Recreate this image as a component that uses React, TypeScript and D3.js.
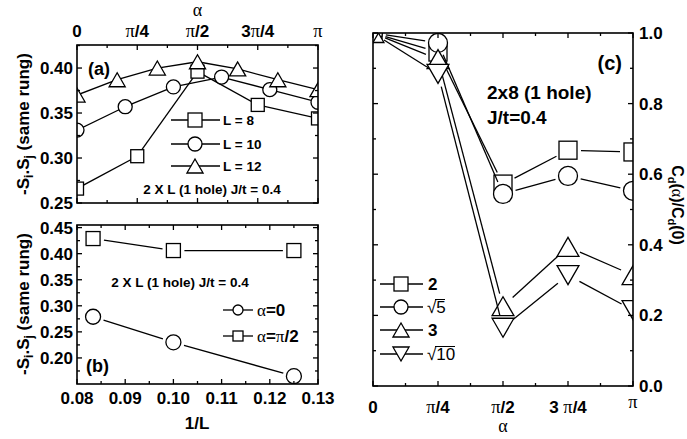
import React from 'react';
import * as d3 from 'd3';

const PI = Math.PI;
// ---- Panel (a): alpha in units of pi, -Si.Sj values
const aL8 = [0, 0.25, 0.5, 0.75, 1];
const vL8 = [0.266, 0.302, 0.396, 0.359, 0.344];
const aL10 = [0, 0.2, 0.4, 0.6, 0.8, 1];
const vL10 = [0.331, 0.357, 0.379, 0.390, 0.376, 0.362];
const aL12 = [0, 1 / 6, 2 / 6, 3 / 6, 4 / 6, 5 / 6, 1];
const vL12 = [0.370, 0.387, 0.400, 0.407, 0.399, 0.387, 0.376];
const legendA = ['L = 8', 'L = 10', 'L = 12'];

// ---- Panel (b)
const invL = [1 / 12, 0.1, 0.125];
const vAlpha0 = [0.279, 0.230, 0.165];
const vAlphaPi2 = [0.429, 0.406, 0.406];

// ---- Panel (c)
const aC = [0, 0.25, 0.5, 0.75, 1];
const cd2 = [1.0, 0.946, 0.572, 0.668, 0.663];
const cd5 = [1.0, 0.972, 0.544, 0.595, 0.553];
const cd3 = [1.0, 0.926, 0.226, 0.394, 0.314];
const cd10 = [1.0, 0.884, 0.165, 0.314, 0.215];

const ticksA = ['0', 'π/4', 'π/2', '3π/4', 'π'];
const yTicksA = [0.25, 0.30, 0.35, 0.40];
const yTicksB = [0.20, 0.25, 0.30, 0.35, 0.40, 0.45];
const xTicksB = [0.08, 0.09, 0.10, 0.11, 0.12, 0.13];
const yTicksC = [0.0, 0.2, 0.4, 0.6, 0.8, 1.0];

const SANS = "'Liberation Sans', Arial, Helvetica, sans-serif";
const SERIF = "'Liberation Serif', 'Times New Roman', serif";

type Shape = 'square' | 'circle' | 'up' | 'down';

function Marker({ shape, x, y, s, sw = 1.3 }: { shape: Shape; x: number; y: number; s: number; sw?: number }) {
  const h = s / 2;
  const common = { fill: 'white', stroke: 'black', strokeWidth: sw };
  if (shape === 'square') return <rect x={x - h} y={y - h} width={s} height={s} {...common} />;
  if (shape === 'circle') return <circle cx={x} cy={y} r={h} {...common} />;
  const w = h * 1.15;
  if (shape === 'up')
    return <polygon points={`${x},${y - h} ${x - w},${y + h} ${x + w},${y + h}`} {...common} />;
  return <polygon points={`${x},${y + h} ${x - w},${y - h} ${x + w},${y - h}`} {...common} />;
}

function Series({ pts, shape, s, gap, sw = 1.3 }: { pts: [number, number][]; shape: Shape; s: number; gap: number; sw?: number }) {
  const segs = [];
  for (let i = 0; i < pts.length - 1; i++) {
    const [x1, y1] = pts[i];
    const [x2, y2] = pts[i + 1];
    const dx = x2 - x1, dy = y2 - y1;
    const L = Math.hypot(dx, dy);
    if (L <= 2 * gap) continue;
    const ux = dx / L, uy = dy / L;
    segs.push(
      <line key={i} x1={x1 + ux * gap} y1={y1 + uy * gap} x2={x2 - ux * gap} y2={y2 - uy * gap} stroke="black" strokeWidth={sw} />
    );
  }
  return (
    <g>
      {segs}
      {pts.map((p, i) => <Marker key={'m' + i} shape={shape} x={p[0]} y={p[1]} s={s} />)}
    </g>
  );
}

function PiLabel({ label, x, y, size, anchor = 'middle' }: { label: string; x: number; y: number; size: number; anchor?: string }) {
  const parts = label.split(/(π)/).filter((p) => p.length > 0);
  return (
    <text x={x} y={y} textAnchor={anchor} fontSize={size}>
      {parts.map((p, i) =>
        p === 'π' ? (
          <tspan key={i} fontFamily={SERIF} fontWeight="normal" fontSize={size * 1.08}>π</tspan>
        ) : (
          <tspan key={i} fontFamily={SANS} fontWeight="bold">{p}</tspan>
        )
      )}
    </text>
  );
}

function Frame({ x0, x1, y0, y1 }: { x0: number; x1: number; y0: number; y1: number }) {
  return <rect x={x0} y={y0} width={x1 - x0} height={y1 - y0} fill="none" stroke="black" strokeWidth={1.6} />;
}

function XTicks({ vals, sx, y0, y1, len }: { vals: number[]; sx: (v: number) => number; y0: number; y1: number; len: number }) {
  return (
    <g stroke="black" strokeWidth={1.3}>
      {vals.map((v, i) => (
        <g key={i}>
          <line x1={sx(v)} x2={sx(v)} y1={y1} y2={y1 - len} />
          <line x1={sx(v)} x2={sx(v)} y1={y0} y2={y0 + len} />
        </g>
      ))}
    </g>
  );
}

function YTicks({ vals, sy, x0, x1, len }: { vals: number[]; sy: (v: number) => number; x0: number; x1: number; len: number }) {
  return (
    <g stroke="black" strokeWidth={1.3}>
      {vals.map((v, i) => (
        <g key={i}>
          <line y1={sy(v)} y2={sy(v)} x1={x0} x2={x0 + len} />
          <line y1={sy(v)} y2={sy(v)} x1={x1} x2={x1 - len} />
        </g>
      ))}
    </g>
  );
}

function YTitle({ x, y }: { x: number; y: number }) {
  return (
    <text transform={`translate(${x},${y}) rotate(-90)`} textAnchor="middle" fontFamily={SANS} fontWeight="bold" fontSize={17}>
      -S<tspan fontSize={12} dy={4}>i</tspan><tspan dy={-4}>.S</tspan><tspan fontSize={12} dy={4}>j</tspan><tspan dy={-4}> (same rung)</tspan>
    </text>
  );
}

export default function App() {
  const A = { x0: 77, x1: 318, y0: 45, y1: 203 };
  const xA = d3.scaleLinear().domain([0, PI]).range([A.x0, A.x1]);
  const yA = d3.scaleLinear().domain([0.25, 0.4256]).range([A.y1, A.y0]);
  const B = { x0: 77, x1: 318, y0: 225, y1: 384 };
  const xB = d3.scaleLinear().domain([0.08, 0.13]).range([B.x0, B.x1]);
  const yB = d3.scaleLinear().domain([0.15, 0.455]).range([B.y1, B.y0]);
  const C = { x0: 373, x1: 633, y0: 33, y1: 386 };
  const xC = d3.scaleLinear().domain([0, PI]).range([C.x0, C.x1]);
  const yC = d3.scaleLinear().domain([0, 1]).range([C.y1, C.y0]);

  const piMajor = [0, 0.25, 0.5, 0.75, 1].map((k) => k * PI);
  const piMinor = [0.125, 0.375, 0.625, 0.875].map((k) => k * PI);

  const ptsA = (xs: number[], vs: number[]) => xs.map((a, i) => [xA(a * PI), yA(vs[i])] as [number, number]);
  const ptsB = (xs: number[], vs: number[]) => xs.map((a, i) => [xB(a), yB(vs[i])] as [number, number]);
  const ptsC = (xs: number[], vs: number[]) => xs.map((a, i) => [xC(a * PI), yC(vs[i])] as [number, number]);

  const legAy = [120, 144, 166];
  const legAShapes: Shape[] = ['square', 'circle', 'up'];
  const legCy = [284, 307, 330, 354];

  return (
    <svg width={687} height={439} style={{ position: 'absolute', left: 0, top: 0, background: 'white' }}>
      <defs>
        <clipPath id="clipA"><rect x={A.x0} y={A.y0} width={A.x1 - A.x0} height={A.y1 - A.y0} /></clipPath>
        <clipPath id="clipB"><rect x={B.x0} y={B.y0} width={B.x1 - B.x0} height={B.y1 - B.y0} /></clipPath>
        <clipPath id="clipC"><rect x={C.x0} y={C.y0} width={C.x1 - C.x0} height={C.y1 - C.y0} /></clipPath>
      </defs>
      <rect x={0} y={0} width={687} height={439} fill="white" />

      {/* ===== Panel (a) ===== */}
      <g clipPath="url(#clipA)">
        <Series pts={ptsA(aL8, vL8)} shape="square" s={13} gap={0} />
        <Series pts={ptsA(aL10, vL10)} shape="circle" s={14} gap={0} />
        <Series pts={ptsA(aL12, vL12)} shape="up" s={14} gap={0} />
      </g>
      <XTicks vals={piMajor} sx={xA} y0={A.y0} y1={A.y1} len={5} />
      <XTicks vals={piMinor} sx={xA} y0={A.y0} y1={A.y1} len={3} />
      <YTicks vals={d3.range(0.25, 0.426, 0.05)} sy={yA} x0={A.x0} x1={A.x1} len={5} />
      <YTicks vals={d3.range(0.275, 0.426, 0.05)} sy={yA} x0={A.x0} x1={A.x1} len={3} />
      <Frame {...A} />
      {yTicksA.map((v) => (
        <text key={v} x={A.x0 - 4} y={yA(v) + 6} textAnchor="end" fontFamily={SANS} fontWeight="bold" fontSize={17}>{v.toFixed(2)}</text>
      ))}
      {ticksA.map((t, i) => (
        <PiLabel key={t} label={t} x={xA(piMajor[i])} y={37} size={17} />
      ))}
      <text x={xA(PI / 2)} y={16} textAnchor="middle" fontFamily={SERIF} fontSize={18}>α</text>
      <text x={88} y={75} fontFamily={SANS} fontWeight="bold" fontSize={18}>(a)</text>
      {legendA.map((lab, i) => (
        <g key={lab}>
          <line x1={171} x2={220} y1={legAy[i]} y2={legAy[i]} stroke="black" strokeWidth={1.3} />
          <Marker shape={legAShapes[i]} x={195} y={legAy[i]} s={14} />
          <text x={223} y={legAy[i] + 5} fontFamily={SANS} fontWeight="bold" fontSize={13.5}>{lab}</text>
        </g>
      ))}
      <text x={212} y={194} textAnchor="middle" fontFamily={SANS} fontWeight="bold" fontSize={13.5}>2 X L (1 hole) J/t = 0.4</text>
      <YTitle x={29} y={124} />

      {/* ===== Panel (b) ===== */}
      <g clipPath="url(#clipB)">
        <Series pts={ptsB(invL, vAlphaPi2)} shape="square" s={14} gap={11} />
        <Series pts={ptsB(invL, vAlpha0)} shape="circle" s={15} gap={11} />
      </g>
      <XTicks vals={xTicksB} sx={xB} y0={B.y0} y1={B.y1} len={5} />
      <XTicks vals={[0.085, 0.095, 0.105, 0.115, 0.125]} sx={xB} y0={B.y0} y1={B.y1} len={3} />
      <YTicks vals={yTicksB} sy={yB} x0={B.x0} x1={B.x1} len={5} />
      <YTicks vals={[0.175, 0.225, 0.275, 0.325, 0.375, 0.425]} sy={yB} x0={B.x0} x1={B.x1} len={3} />
      <Frame {...B} />
      {yTicksB.map((v) => (
        <text key={v} x={B.x0 - 4} y={yB(v) + 6} textAnchor="end" fontFamily={SANS} fontWeight="bold" fontSize={17}>{v.toFixed(2)}</text>
      ))}
      {xTicksB.map((v) => (
        <text key={v} x={xB(v)} y={404} textAnchor="middle" fontFamily={SANS} fontWeight="bold" fontSize={17}>{v.toFixed(2)}</text>
      ))}
      <text x={197} y={429} textAnchor="middle" fontFamily={SANS} fontWeight="bold" fontSize={17}>1/L</text>
      <text x={180} y={287} textAnchor="middle" fontFamily={SANS} fontWeight="bold" fontSize={13.5}>2 X L (1 hole) J/t = 0.4</text>
      <text x={86} y={372} fontFamily={SANS} fontWeight="bold" fontSize={18}>(b)</text>
      {[{ y: 310, shape: 'circle' as Shape, lab: '0' }, { y: 336, shape: 'square' as Shape, lab: 'π/2' }].map((l) => (
        <g key={l.lab}>
          <line x1={223} x2={253} y1={l.y} y2={l.y} stroke="black" strokeWidth={1.3} />
          <Marker shape={l.shape} x={238} y={l.y} s={10} />
          <text x={257} y={l.y + 6} fontSize={17}>
            <tspan fontFamily={SERIF}>α</tspan>
            <tspan fontFamily={SANS} fontWeight="bold">=</tspan>
            {l.lab === '0' ? (
              <tspan fontFamily={SANS} fontWeight="bold">0</tspan>
            ) : (
              <>
                <tspan fontFamily={SERIF}>π</tspan>
                <tspan fontFamily={SANS} fontWeight="bold">/2</tspan>
              </>
            )}
          </text>
        </g>
      ))}
      <YTitle x={29} y={304} />

      {/* ===== Panel (c) ===== */}
      <g clipPath="url(#clipC)">
        <Series pts={ptsC(aC, cd2)} shape="square" s={18} gap={13} />
        <Series pts={ptsC(aC, cd5)} shape="circle" s={19} gap={13} />
        <Series pts={ptsC(aC, cd3)} shape="up" s={19} gap={13} />
        <Series pts={ptsC(aC, cd10)} shape="down" s={19} gap={13} />
      </g>
      <XTicks vals={piMajor} sx={xC} y0={C.y0} y1={C.y1} len={5} />
      <XTicks vals={piMinor} sx={xC} y0={C.y0} y1={C.y1} len={3} />
      <YTicks vals={yTicksC} sy={yC} x0={C.x0} x1={C.x1} len={5} />
      <YTicks vals={[0.1, 0.3, 0.5, 0.7, 0.9]} sy={yC} x0={C.x0} x1={C.x1} len={3} />
      <Frame {...C} />
      {yTicksC.map((v) => (
        <text key={v} x={C.x1 + 6} y={yC(v) + 6} textAnchor="start" fontFamily={SANS} fontWeight="bold" fontSize={17}>{v.toFixed(1)}</text>
      ))}
      {ticksA.map((t, i) => (
        <PiLabel key={t} label={t.replace('3π', '3 π')} x={xC(piMajor[i])} y={i === 4 ? 408 : 413} size={17} />
      ))}
      <text x={xC(PI / 2)} y={432} textAnchor="middle" fontFamily={SERIF} fontSize={18}>α</text>
      <text x={622} y={70} textAnchor="end" fontFamily={SANS} fontWeight="bold" fontSize={20}>(c)</text>
      <text x={487} y={99} fontFamily={SANS} fontWeight="bold" fontSize={19}>2x8 (1 hole)</text>
      <text x={487} y={124} fontFamily={SANS} fontWeight="bold" fontSize={19}>J/t=0.4</text>
      <text transform={`translate(672,205) rotate(90)`} textAnchor="middle" fontFamily={SANS} fontWeight="bold" fontSize={16}>
        C<tspan fontSize={11} dy={4}>d</tspan><tspan dy={-4}>(</tspan><tspan fontFamily={SERIF} fontWeight="normal">α</tspan>)/C<tspan fontSize={11} dy={4}>d</tspan><tspan dy={-4}>(0)</tspan>
      </text>
      {(['square', 'circle', 'up', 'down'] as Shape[]).map((sh, i) => (
        <g key={sh}>
          <line x1={380} x2={423} y1={legCy[i]} y2={legCy[i]} stroke="black" strokeWidth={1.3} />
          <Marker shape={sh} x={401} y={legCy[i]} s={14} />
        </g>
      ))}
      <text x={428} y={legCy[0] + 6} fontFamily={SANS} fontWeight="bold" fontSize={17}>2</text>
      <text x={427} y={legCy[1] + 6} fontFamily={SANS} fontSize={17}>√5</text>
      <line x1={435} x2={445} y1={legCy[1] - 7.5} y2={legCy[1] - 7.5} stroke="black" strokeWidth={1} />
      <text x={428} y={legCy[2] + 6} fontFamily={SANS} fontWeight="bold" fontSize={17}>3</text>
      <text x={427} y={legCy[3] + 6} fontFamily={SANS} fontSize={17}>√10</text>
      <line x1={435} x2={455} y1={legCy[3] - 7.5} y2={legCy[3] - 7.5} stroke="black" strokeWidth={1} />
    </svg>
  );
}
